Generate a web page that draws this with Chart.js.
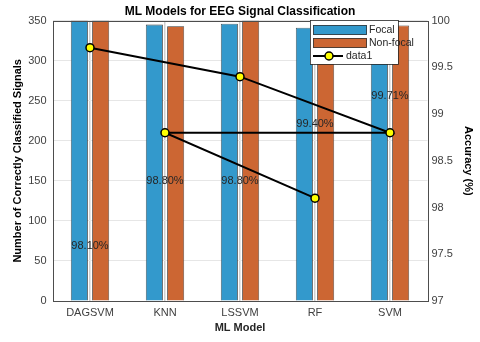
<!DOCTYPE html>
<html>
<head>
<meta charset="utf-8">
<script src="https://cdn.jsdelivr.net/npm/chart.js@4/dist/chart.umd.min.js"></script>
<style>
  html, body { margin: 0; padding: 0; background: #fff; }
  #wrap { width: 480px; height: 342px; }
</style>
</head>
<body>
<div id="wrap"><canvas id="chart" width="480" height="342"></canvas></div>
<script>
// values
const categories = ['DAGSVM', 'KNN', 'LSSVM', 'RF', 'SVM'];
const focal = [350, 345, 346, 341, 345];
const nonFocal = [350, 343, 350, 345, 344];

// the accuracy line is drawn in this (non-sorted) order
const lineOrder = ['DAGSVM', 'LSSVM', 'SVM', 'KNN', 'RF'];
const lineAccuracy = [99.71, 99.40, 98.80, 98.80, 98.10];

// text labels per category and the left-axis level they sit at
const accLabels = ['98.10%', '98.80%', '98.80%', '99.40%', '99.71%'];
const accLabelLevels = [69, 150, 150, 221, 256];

const leftTicks = [0, 50, 100, 150, 200, 250, 300, 350];
const rightTicks = [97, 97.5, 98, 98.5, 99, 99.5, 100];

const FONT = "'Liberation Sans', Arial, Helvetica, sans-serif";
const BLUE = '#3399cc';
const ORANGE = '#cc6633';

// percentage labels drawn at category positions
const accLabelPlugin = {
  id: 'accLabels',
  afterDatasetsDraw(chart) {
    const ctx = chart.ctx;
    const x = chart.scales.x;
    const y = chart.scales.y;
    ctx.save();
    ctx.font = '11px ' + FONT;
    ctx.fillStyle = '#262626';
    ctx.textAlign = 'center';
    ctx.textBaseline = 'middle';
    accLabels.forEach((t, i) => {
      ctx.fillText(t, x.getPixelForValue(i), y.getPixelForValue(accLabelLevels[i]));
    });
    ctx.restore();
  }
};

// box around the axes and a MATLAB-like legend inside the top right
const boxLegendPlugin = {
  id: 'boxLegend',
  afterDraw(chart) {
    const ctx = chart.ctx;
    const a = chart.chartArea;
    ctx.save();
    ctx.strokeStyle = '#4d4d4d';
    ctx.lineWidth = 1;
    ctx.strokeRect(Math.round(a.left) + 0.5, Math.round(a.top) + 0.5,
      Math.round(a.right - a.left), Math.round(a.bottom - a.top));

    const lx = 310, ly = 20, lw = 88, lh = 44;
    ctx.fillStyle = '#fff';
    ctx.fillRect(lx, ly, lw, lh);
    ctx.strokeStyle = '#262626';
    ctx.lineWidth = 0.8;
    ctx.strokeRect(lx + 0.5, ly + 0.5, lw, lh);

    const ds = chart.data.datasets;
    ctx.font = '10.5px ' + FONT;
    ctx.textBaseline = 'middle';
    ctx.textAlign = 'left';
    [0, 1].forEach(i => {
      const yy = ly + 5 + i * 13;
      ctx.fillStyle = ds[i].backgroundColor;
      ctx.fillRect(lx + 3, yy, 54, 10);
      ctx.strokeStyle = '#333';
      ctx.strokeRect(lx + 3.5, yy + 0.5, 53, 9);
      ctx.fillStyle = '#262626';
      ctx.fillText(ds[i].label, lx + 59, yy + 5);
    });
    const y3 = ly + 36;
    ctx.strokeStyle = '#000';
    ctx.lineWidth = 2;
    ctx.beginPath();
    ctx.moveTo(lx + 3, y3);
    ctx.lineTo(lx + 33, y3);
    ctx.stroke();
    ctx.beginPath();
    ctx.arc(lx + 19, y3, 4, 0, Math.PI * 2);
    ctx.fillStyle = '#ffff00';
    ctx.fill();
    ctx.lineWidth = 1.5;
    ctx.stroke();
    ctx.fillStyle = '#262626';
    ctx.fillText(ds[2].label, lx + 36, y3);
    ctx.restore();
  }
};

new Chart(document.getElementById('chart'), {
  type: 'bar',
  data: {
    labels: categories,
    datasets: [
      {
        label: 'Focal',
        data: focal,
        backgroundColor: BLUE,
        borderColor: '#333',
        borderWidth: 0.8,
        categoryPercentage: 0.568,
        barPercentage: 0.8,
        yAxisID: 'y',
        order: 2
      },
      {
        label: 'Non-focal',
        data: nonFocal,
        backgroundColor: ORANGE,
        borderColor: '#333',
        borderWidth: 0.8,
        categoryPercentage: 0.568,
        barPercentage: 0.8,
        yAxisID: 'y',
        order: 2
      },
      {
        type: 'line',
        label: 'data1',
        data: lineOrder.map((c, i) => ({ x: c, y: lineAccuracy[i] })),
        borderColor: '#000',
        borderWidth: 2,
        pointBackgroundColor: '#ffff00',
        pointBorderColor: '#000',
        pointBorderWidth: 1.5,
        pointRadius: 4,
        tension: 0,
        fill: false,
        yAxisID: 'y1',
        order: 1
      }
    ]
  },
  options: {
    responsive: false,
    animation: false,
    devicePixelRatio: 1,
    layout: { padding: { left: 0, right: 0, top: 0, bottom: 0 } },
    plugins: {
      legend: { display: false },
      tooltip: { enabled: false },
      title: {
        display: true,
        text: 'ML Models for EEG Signal Classification',
        color: '#000',
        font: { family: FONT, size: 12, weight: 'bold' },
        padding: { top: 4, bottom: 2.2 }
      }
    },
    scales: {
      x: {
        offset: true,
        grid: { display: true, offset: false, color: '#cfcfcf', lineWidth: 1.5, drawTicks: false },
        border: { display: false },
        ticks: { color: '#404040', font: { family: FONT, size: 11 }, padding: 5, maxRotation: 0 },
        title: {
          display: true,
          text: 'ML Model',
          color: '#262626',
          font: { family: FONT, size: 11, weight: 'bold' },
          padding: { top: 1, bottom: 7.4 }
        },
        afterFit: s => { s.height = 41; }
      },
      y: {
        position: 'left',
        min: 0,
        max: 350,
        afterBuildTicks: s => { s.ticks = leftTicks.map(v => ({ value: v })); },
        grid: { color: '#e6e6e6', drawTicks: false },
        border: { display: false },
        ticks: { color: '#404040', font: { family: FONT, size: 11 }, padding: 6 },
        title: {
          display: true,
          text: 'Number of Correctly Classified Signals',
          color: '#000',
          font: { family: FONT, size: 11, weight: 'bold' },
          padding: { top: 11, bottom: 0 }
        },
        afterFit: s => { s.width = 52.5; }
      },
      y1: {
        position: 'right',
        min: 97,
        max: 100,
        afterBuildTicks: s => { s.ticks = rightTicks.map(v => ({ value: v })); },
        grid: { drawOnChartArea: false, drawTicks: false },
        border: { display: false },
        ticks: { color: '#404040', font: { family: FONT, size: 11 }, padding: 4, callback: v => String(v) },
        title: {
          display: true,
          text: 'Accuracy (%)',
          color: '#000',
          font: { family: FONT, size: 11, weight: 'bold' },
          padding: { top: 5.5, bottom: 0 }
        },
        afterFit: s => { s.width = 52.5; }
      }
    }
  },
  plugins: [accLabelPlugin, boxLegendPlugin]
});
</script>
</body>
</html>
